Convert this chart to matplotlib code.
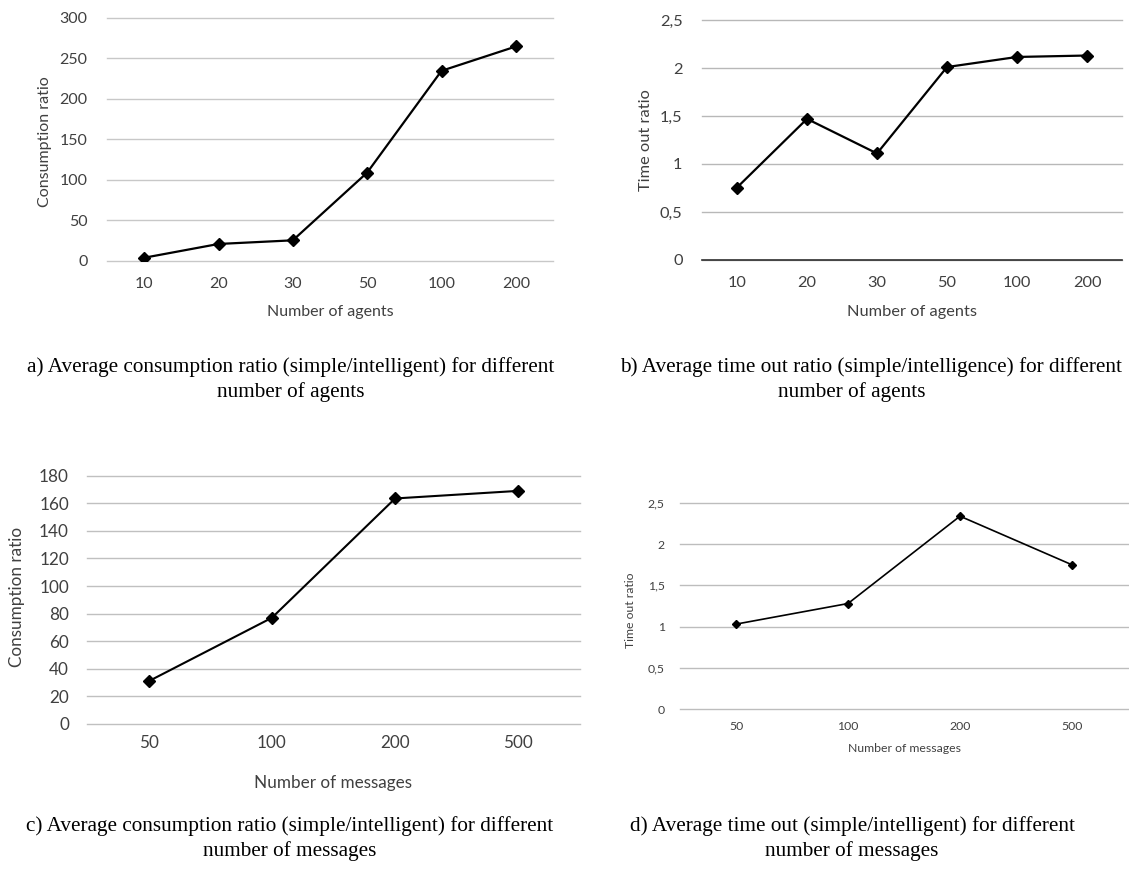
import matplotlib
matplotlib.use("Agg")
import matplotlib.pyplot as plt
from matplotlib.ticker import FuncFormatter, MultipleLocator

# data
agents = ["10", "20", "30", "50", "100", "200"]
consumption_agents = [4, 21, 25.5, 109, 234.5, 264.5]
timeout_agents = [0.755, 1.47, 1.11, 2.01, 2.115, 2.13]

messages = ["50", "100", "200", "500"]
consumption_messages = [31, 77, 163.5, 169]
timeout_messages = [1.03, 1.28, 2.34, 1.75]

captions = {
    "a": ["a) Average consumption ratio (simple/intelligent) for different", "number of agents"],
    "b": ["b) Average time out ratio (simple/intelligence) for different", "number of agents"],
    "c": ["c) Average consumption ratio (simple/intelligent) for different", "number of messages"],
    "d": ["d) Average time out (simple/intelligent) for different", "number of messages"],
}

W, H = 1129, 876
sans = "Lato"
serif = "Liberation Serif"
txt = "#404040"

fig = plt.figure(figsize=(W / 100, H / 100), dpi=100)
fig.patch.set_facecolor("white")


def px_box(l, t, r, b):
    return [l / W, 1 - b / H, (r - l) / W, (b - t) / H]


def comma(v, pos):
    return ("%g" % v).replace(".", ",")


def panel(box, cats, vals, ymax, step, xlabel, ylabel, xlab_px, ylab_px,
          fs, xpad, ypad, grid_c, lw, ms, zero_c=None, decimal=False):
    l, t, r, b = box
    ax = fig.add_axes(px_box(l, t, r, b))
    x = range(len(cats))
    ax.plot(x, vals, color="black", lw=lw, marker="D", ms=ms, zorder=3)
    ax.set_xlim(-0.5, len(cats) - 0.5)
    ax.set_ylim(0, ymax)
    ax.set_xticks(list(x))
    ax.set_xticklabels(cats)
    ax.yaxis.set_major_locator(MultipleLocator(step))
    if decimal:
        ax.yaxis.set_major_formatter(FuncFormatter(comma))
    ax.grid(axis="y", color=grid_c, lw=1.0, zorder=0)
    ax.set_axisbelow(True)
    for g in ax.get_ygridlines():
        g.set_clip_on(False)
    for s in ax.spines.values():
        s.set_visible(False)
    if zero_c:
        ax.axhline(0, color=zero_c, lw=1.2, zorder=1, clip_on=False)
    ax.tick_params(axis="x", length=0, pad=xpad, labelsize=fs, labelcolor=txt)
    ax.tick_params(axis="y", length=0, pad=ypad, labelsize=fs, labelcolor=txt)
    for lab in ax.get_xticklabels() + ax.get_yticklabels():
        lab.set_family(sans)
    ax.set_xlabel(xlabel, fontsize=fs, color=txt, family=sans, va="center")
    ax.set_ylabel(ylabel, fontsize=fs, color=txt, family=sans, va="center")
    ax.xaxis.set_label_coords((xlab_px[0] - l) / (r - l), (b - xlab_px[1]) / (b - t))
    ax.yaxis.set_label_coords((ylab_px[0] - l) / (r - l), (b - ylab_px[1]) / (b - t))
    return ax


# a) consumption vs agents
panel((107, 17.7, 553, 261), agents, consumption_agents, 300, 50,
      "Number of agents", "Consumption ratio", (330, 312), (45, 142),
      fs=11.5, xpad=11.5, ypad=14, grid_c="#c8c8c8", lw=1.6, ms=6)

# b) time out vs agents
panel((702, 20, 1122, 260), agents, timeout_agents, 2.5, 0.5,
      "Number of agents", "Time out ratio", (912, 312), (646, 140),
      fs=11.8, xpad=11.5, ypad=14, grid_c="#b8b8b8", lw=1.6, ms=6,
      zero_c="#303030", decimal=True)

# c) consumption vs messages
panel((87, 475.7, 580, 724), messages, consumption_messages, 180, 20,
      "Number of messages", "Consumption ratio", (333, 783), (17, 597),
      fs=12.3, xpad=8, ypad=13, grid_c="#c0c0c0", lw=1.5, ms=6)

# d) time out vs messages
panel((680, 503, 1128, 709), messages, timeout_messages, 2.5, 0.5,
      "Number of messages", "Time out ratio", (904, 748), (631, 610),
      fs=8.8, xpad=9, ypad=11, grid_c="#bdbdbd", lw=1.2, ms=4, decimal=True)

# captions under each chart
cap_pos = {
    "a": [(291, 367), (291, 392)],
    "b": [(871, 367), (852, 392)],
    "c": [(290, 826), (290, 851)],
    "d": [(853, 826), (852, 851)],
}
for k, lines in captions.items():
    for line, (cx, cy) in zip(lines, cap_pos[k]):
        fig.text(cx / W, 1 - cy / H, line, ha="center", va="center",
                 fontsize=15.3, family=serif, color="black")

fig.savefig("out.png", dpi=100)
